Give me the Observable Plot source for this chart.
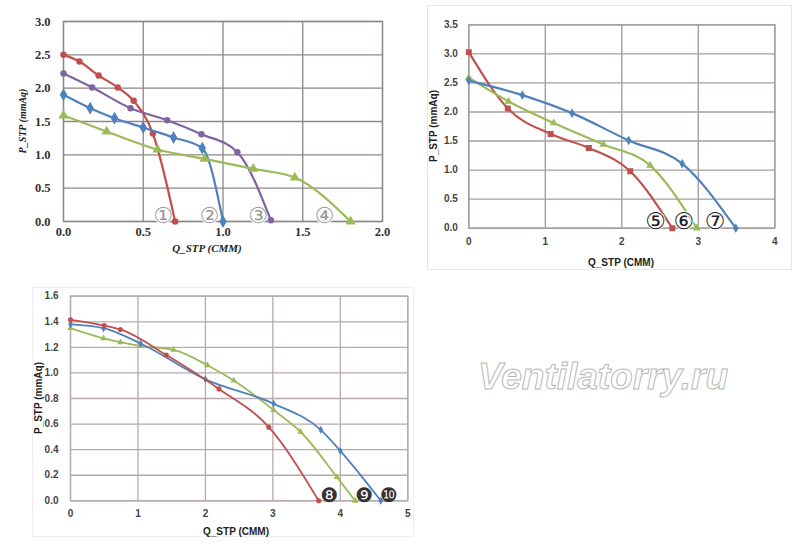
<!DOCTYPE html>
<html><head><meta charset="utf-8">
<script src="https://cdn.jsdelivr.net/npm/d3@7"></script>
<script src="https://cdn.jsdelivr.net/npm/@observablehq/plot@0.6"></script>
<style>
body{margin:0;background:#fff;}
#root{position:relative;width:800px;height:556px;overflow:hidden;background:#fff;}
.pan{position:absolute;}
.lab{position:absolute;white-space:nowrap;font-weight:bold;color:#222;}
.ylab{transform:translate(-50%,-50%) rotate(-90deg);}
.xlab{transform:translate(-50%,-50%);}
#wm{position:absolute;left:603px;top:377px;transform:translate(-50%,-50%);font-family:"Liberation Sans",Arial,sans-serif;font-style:italic;font-weight:bold;font-size:37px;color:#fff;-webkit-text-stroke:1px #b8b8b8;white-space:nowrap;}
</style>
</head><body><div id="root"></div>
<script>
// ---------- Panel 1 data (Q_STP CMM, P_STP mmAq) ----------
const p1S1 = [[0,2.5],[0.1,2.4],[0.22,2.19],[0.34,2.01],[0.44,1.81],[0.56,1.32],[0.70,0.0]];
const p1S2 = [[0,1.9],[0.167,1.7],[0.32,1.55],[0.5,1.41],[0.69,1.26],[0.87,1.1],[1.0,0.0]];
const p1S3 = [[0,2.22],[0.18,2.01],[0.42,1.7],[0.65,1.52],[0.865,1.31],[1.09,1.04],[1.30,0.02]];
const p1S4 = [[0,1.59],[0.27,1.35],[0.59,1.08],[0.885,0.94],[1.19,0.79],[1.45,0.66],[1.80,0.0]];
const p1Labels = ["①","②","③","④"];
const p1LabelQ = [0.625, 0.915, 1.22, 1.635];
const p1LabelP = [0.08, 0.08, 0.08, 0.08];

// ---------- Panel 2 data ----------
const p2S5 = [[0,3.03],[0.51,2.06],[1.07,1.62],[1.57,1.38],[2.11,0.98],[2.66,0.0]];
const p2S6 = [[0,2.59],[0.52,2.18],[1.11,1.81],[1.76,1.44],[2.37,1.08],[2.98,0.0]];
const p2S7 = [[0,2.54],[0.70,2.29],[1.35,1.98],[2.09,1.51],[2.79,1.11],[3.49,0.0]];
const p2Labels = ["⑤","⑥","⑦"];
const p2LabelQ = [2.44, 2.81, 3.22];
const p2LabelP = [0.11, 0.11, 0.11];

// ---------- Panel 3 data ----------
const p3S8 = [[0,1.415],[0.5,1.37],[0.74,1.34],[1.42,1.14],[2.2,0.875],[2.94,0.576],[3.68,0.0]];
const p3S9 = [[0,1.35],[0.49,1.27],[0.74,1.24],[1.04,1.21],[1.53,1.18],[2.03,1.06],[2.42,0.94],[3.01,0.71],[3.41,0.54],[3.95,0.185],[4.22,0.0]];
const p3S10 = [[0,1.38],[0.49,1.35],[1.04,1.23],[2.0,0.95],[3.01,0.76],[3.71,0.555],[4.0,0.39],[4.6,0.0]];
const p3Labels = ["❽","❾","❿"];
const p3LabelQ = [3.84, 4.35, 4.72];
const p3LabelP = [0.04, 0.04, 0.04];

const RED = "#c0504d", BLUE = "#4f81bd", PURPLE = "#8064a2", GREEN = "#9bbb59";

const toRows = (arr) => arr.map(([q,p]) => ({q,p}));
const labRows = (labs, qs, ps) => labs.map((t,i) => ({t, q: qs[i], p: ps[i]}));

const root = document.getElementById("root");
function place(el, left, top){ const d=document.createElement("div"); d.className="pan"; d.style.left=left+"px"; d.style.top=top+"px"; d.appendChild(el); root.appendChild(d); return d; }
function label(text, cls, x, y, font, size, italic){ const d=document.createElement("div"); d.className="lab "+cls; d.textContent=text; d.style.left=x+"px"; d.style.top=y+"px"; d.style.fontFamily=font; d.style.fontSize=size+"px"; if(italic) d.style.fontStyle="italic"; root.appendChild(d); }

function seriesMarks(rows, color, symbol, r, sw){
  return [
    Plot.line(rows, {x:"q", y:"p", stroke: color, strokeWidth: sw, curve: "monotone-x"}),
    Plot.dot(rows, {x:"q", y:"p", fill: color, stroke: color, symbol, r})
  ];
}

// ---------- Panel 1 ----------
{
  const grid = "#8f8686";
  const chart = Plot.plot({
    width: 400, height: 265,
    marginLeft: 63, marginRight: 18, marginTop: 21, marginBottom: 44,
    style: {fontFamily: "Liberation Serif", fontSize: "12.5px", fontWeight: "bold", color: "#333", background: "transparent"},
    x: {domain: [0, 2], ticks: d3.range(0, 2.01, 0.5), tickFormat: d3.format(".1f"), label: null},
    y: {domain: [0, 3], ticks: d3.range(0, 3.01, 0.5), tickFormat: d3.format(".1f"), label: null},
    marks: [
      Plot.gridX({stroke: grid, strokeOpacity: 1, strokeWidth: 1.3}),
      Plot.gridY({stroke: grid, strokeOpacity: 1, strokeWidth: 1.3}),
      Plot.frame({stroke: grid, strokeWidth: 1.3}),
      Plot.axisX({tickSize: 0, tickPadding: 6, label: null}),
      Plot.axisY({tickSize: 0, tickPadding: 13, label: null}),
      Plot.text(labRows(p1Labels, p1LabelQ, p1LabelP), {x:"q", y:"p", text:"t", fill:"#9a9a9a", fontSize: 22, fontWeight: "normal", fontFamily: "DejaVu Sans", stroke: "#fff", strokeWidth: 2, paintOrder: "stroke"}),
      ...seriesMarks(toRows(p1S1), RED, "circle", 2.5, 2.2),
      ...seriesMarks(toRows(p1S2), BLUE, "diamond", 3, 2.2),
      ...seriesMarks(toRows(p1S3), PURPLE, "circle", 2.5, 2.2),
      ...seriesMarks(toRows(p1S4), GREEN, "triangle", 2.8, 2.2)
    ]
  });
  place(chart, 0, 0);
  label("Q_STP (CMM)", "xlab", 207, 248, "Liberation Serif", 11, true);
  label("P_STP (mmAq)", "ylab", 22, 121, "Liberation Serif", 10, true);
}

// ---------- Panel 2 ----------
{
  const box = document.createElement("div");
  box.style.cssText = "position:absolute;left:427px;top:5px;width:363px;height:263px;border:1px solid #e4e8ec;background:#fff;";
  root.appendChild(box);
  const grid = "#a89e9e";
  const chart = Plot.plot({
    width: 365, height: 263,
    marginLeft: 43.3, marginRight: 15.7, marginTop: 19.3, marginBottom: 40.3,
    style: {fontFamily: "Liberation Sans", fontSize: "10px", fontWeight: "bold", color: "#444", background: "transparent"},
    x: {domain: [0, 4], ticks: d3.range(0, 4.01, 0.5), tickFormat: d => String(+d.toFixed(1)), label: null},
    y: {domain: [0, 3.5], ticks: d3.range(0, 3.51, 0.5), tickFormat: d3.format(".1f"), label: null},
    marks: [
      Plot.gridX({stroke: grid, strokeOpacity: 1, strokeWidth: 1.4}),
      Plot.gridY({stroke: grid, strokeOpacity: 1, strokeWidth: 1.4}),
      Plot.frame({stroke: grid, strokeWidth: 1.4}),
      Plot.axisX({tickSize: 0, tickPadding: 10, label: null}),
      Plot.axisY({tickSize: 0, tickPadding: 11, label: null}),
      ...seriesMarks(toRows(p2S5), RED, "square", 2.5, 2.2),
      ...seriesMarks(toRows(p2S6), GREEN, "triangle", 2, 2.2),
      ...seriesMarks(toRows(p2S7), BLUE, "diamond", 2, 2.2),
      Plot.text(labRows(p2Labels, p2LabelQ, p2LabelP), {x:"q", y:"p", text:"t", fill:"#222", fontSize: 23, fontWeight: "normal", fontFamily: "DejaVu Sans", stroke: "#fff", strokeWidth: 2, paintOrder: "stroke"})
    ]
  });
  place(chart, 425, 5);
  label("Q_STP (CMM)", "xlab", 621, 262, "Liberation Sans", 10, false);
  label("P_STP (mmAq)", "ylab", 433, 126, "Liberation Sans", 10, false);
}

// ---------- Panel 3 ----------
{
  const box = document.createElement("div");
  box.style.cssText = "position:absolute;left:32px;top:287px;width:380px;height:248px;border:1px solid #eceef2;background:#fff;";
  root.appendChild(box);
  const grid = "#b8aaaa";
  const chart = Plot.plot({
    width: 385, height: 252,
    marginLeft: 40, marginRight: 7.7, marginTop: 10.7, marginBottom: 36.7,
    style: {fontFamily: "Liberation Sans", fontSize: "10px", fontWeight: "bold", color: "#444", background: "transparent"},
    x: {domain: [0, 5], ticks: d3.range(0, 5.01, 0.5), tickFormat: d => String(+d.toFixed(1)), label: null},
    y: {domain: [0, 1.6], ticks: d3.range(0, 1.61, 0.2), tickFormat: d3.format(".1f"), label: null},
    marks: [
      Plot.gridX({stroke: grid, strokeOpacity: 1, strokeWidth: 1.3}),
      Plot.gridY({stroke: grid, strokeOpacity: 1, strokeWidth: 1.3}),
      Plot.frame({stroke: grid, strokeWidth: 1.3}),
      Plot.axisX({tickSize: 0, tickPadding: 9, label: null}),
      Plot.axisY({tickSize: 0, tickPadding: 12, label: null}),
      ...seriesMarks(toRows(p3S9), GREEN, "triangle", 1.5, 1.8),
      ...seriesMarks(toRows(p3S10), BLUE, "diamond", 1.5, 1.8),
      ...seriesMarks(toRows(p3S8), RED, "circle", 1.8, 1.8),
      Plot.text(labRows(p3Labels, p3LabelQ, p3LabelP), {x:"q", y:"p", text:"t", fill:"#333", fontSize: 20, fontWeight: "normal", fontFamily: "DejaVu Sans"})
    ]
  });
  place(chart, 30, 285);
  label("Q_STP (CMM)", "xlab", 236, 531, "Liberation Sans", 10, false);
  label("P_STP (mmAq)", "ylab", 38, 398, "Liberation Sans", 10, false);
}

const wm = document.createElement("div");
wm.id = "wm"; wm.textContent = "Ventilatorry.ru";
root.appendChild(wm);
</script>
</body></html>
